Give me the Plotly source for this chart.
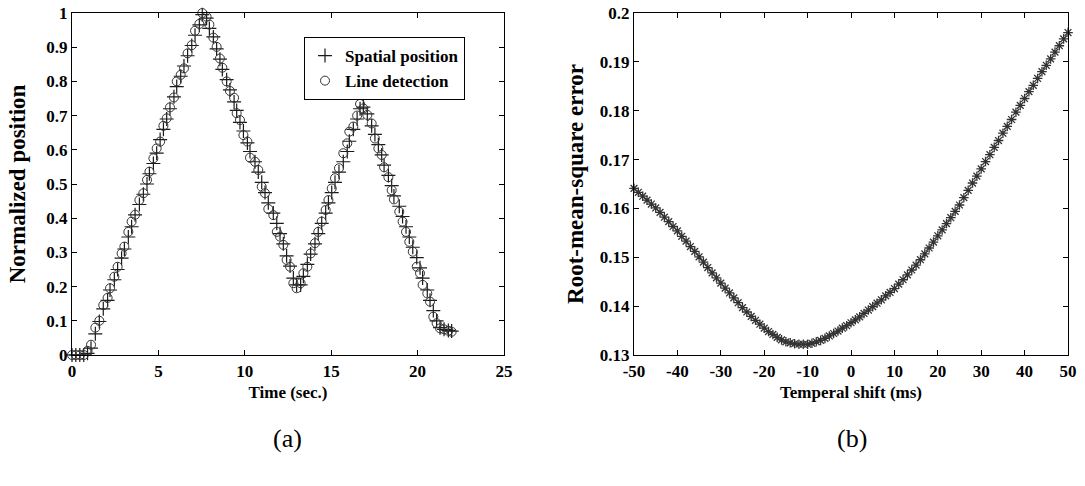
import plotly.graph_objects as go

# ---------------- data: panel (a) ----------------
time_s = [0.00, 0.22, 0.45, 0.68, 0.90, 1.10, 1.35, 1.58, 1.81, 2.06,
          2.20, 2.45, 2.64, 2.87, 3.03, 3.26, 3.45, 3.65, 3.90, 4.13,
          4.34, 4.48, 4.71, 4.90, 5.10, 5.29, 5.48, 5.67, 5.90, 6.06,
          6.29, 6.48, 6.69, 6.93, 7.12, 7.37, 7.54, 7.79, 7.95, 8.18,
          8.37, 8.56, 8.70, 8.95, 9.14, 9.38, 9.53, 9.72, 9.92, 10.15,
          10.30, 10.59, 10.78, 10.98, 11.17, 11.36, 11.65, 11.85, 12.04, 12.23,
          12.42, 12.62, 12.81, 13.00, 13.23, 13.39, 13.62, 13.81, 14.06, 14.25,
          14.45, 14.68, 14.84, 15.03, 15.22, 15.45, 15.70, 15.93, 16.05, 16.28,
          16.50, 16.67, 16.86, 17.09, 17.34, 17.53, 17.73, 17.92, 18.06, 18.31,
          18.50, 18.63, 18.94, 19.13, 19.33, 19.52, 19.72, 19.95, 20.14, 20.29,
          20.56, 20.72, 20.91, 21.10, 21.30, 21.53, 21.78, 21.97]

line_detection = [0.000, 0.000, 0.000, 0.000, 0.012, 0.030, 0.080, 0.100, 0.146, 0.167,
                  0.195, 0.229, 0.258, 0.297, 0.317, 0.360, 0.390, 0.410, 0.453, 0.473,
                  0.512, 0.536, 0.575, 0.604, 0.624, 0.670, 0.692, 0.724, 0.753, 0.800,
                  0.819, 0.838, 0.882, 0.906, 0.948, 0.968, 1.000, 0.989, 0.966, 0.928,
                  0.901, 0.867, 0.840, 0.800, 0.772, 0.752, 0.707, 0.687, 0.643, 0.624,
                  0.577, 0.565, 0.541, 0.492, 0.473, 0.427, 0.409, 0.360, 0.346, 0.322,
                  0.278, 0.258, 0.210, 0.195, 0.210, 0.239, 0.258, 0.297, 0.327, 0.360,
                  0.390, 0.424, 0.453, 0.487, 0.517, 0.546, 0.590, 0.619, 0.653, 0.668,
                  0.700, 0.734, 0.721, 0.702, 0.677, 0.633, 0.604, 0.585, 0.549, 0.520,
                  0.482, 0.455, 0.419, 0.390, 0.360, 0.331, 0.302, 0.258, 0.239, 0.205,
                  0.180, 0.156, 0.112, 0.093, 0.078, 0.075, 0.071, 0.068]

spatial_position = [0.000, 0.000, 0.000, 0.000, 0.005, 0.020,
                    0.062, 0.098, 0.135, 0.160, 0.190, 0.220, 0.250, 0.283, 0.310, 0.345,
                    0.375, 0.410, 0.440, 0.470, 0.500, 0.530, 0.560, 0.590, 0.630, 0.660,
                    0.690, 0.720, 0.755, 0.785, 0.815, 0.845, 0.875, 0.905, 0.935, 0.965,
                    0.995,
                    0.985, 0.955, 0.930, 0.895, 0.865, 0.835, 0.805, 0.775, 0.740, 0.715,
                    0.680, 0.655, 0.620, 0.595, 0.565, 0.535, 0.505, 0.475, 0.445, 0.415,
                    0.385, 0.355, 0.325, 0.290, 0.260, 0.225, 0.205,
                    0.205, 0.230, 0.265, 0.295, 0.325, 0.355, 0.385, 0.415, 0.445, 0.475,
                    0.505, 0.535, 0.565, 0.595, 0.625, 0.660, 0.690, 0.720,
                    0.725, 0.705, 0.670, 0.645, 0.615, 0.585, 0.555, 0.525, 0.495, 0.465,
                    0.435, 0.405, 0.375, 0.345, 0.315, 0.285, 0.255, 0.225, 0.190, 0.160,
                    0.130, 0.100, 0.080, 0.075, 0.072, 0.070]

# ---------------- data: panel (b) ----------------
shift_ms = list(range(-50, 51))
rmse = [0.1641, 0.1633, 0.1625, 0.1617, 0.1609, 0.1601, 0.1592, 0.1582, 0.1573, 0.1563,
        0.1554, 0.1543, 0.1533, 0.1522, 0.1512, 0.1501, 0.1490, 0.1479, 0.1468, 0.1458,
        0.1447, 0.1437, 0.1427, 0.1417, 0.1407, 0.1397, 0.1388, 0.1379, 0.1371, 0.1363,
        0.1355, 0.1348, 0.1342, 0.1336, 0.1331, 0.1327, 0.1325, 0.1323, 0.1322, 0.1322,
        0.1322, 0.1324, 0.1327, 0.1330, 0.1334, 0.1339, 0.1344, 0.1349, 0.1355, 0.1360,
        0.1366, 0.1372, 0.1378, 0.1385, 0.1392, 0.1399, 0.1406, 0.1413, 0.1421, 0.1428,
        0.1436, 0.1445, 0.1454, 0.1464, 0.1474, 0.1484, 0.1495, 0.1507, 0.1519, 0.1531,
        0.1544, 0.1556, 0.1569, 0.1581, 0.1594, 0.1607, 0.1622, 0.1637, 0.1652, 0.1666,
        0.1681, 0.1696, 0.1710, 0.1725, 0.1739, 0.1754, 0.1768, 0.1782, 0.1797, 0.1811,
        0.1825, 0.1839, 0.1852, 0.1866, 0.1880, 0.1893, 0.1906, 0.1920, 0.1933, 0.1947,
        0.1960]

xticks_a = [0, 5, 10, 15, 20, 25]
yticks_a = [0, 0.1, 0.2, 0.3, 0.4, 0.5, 0.6, 0.7, 0.8, 0.9, 1]
yticktext_a = ["0", "0.1", "0.2", "0.3", "0.4", "0.5", "0.6", "0.7", "0.8", "0.9", "1"]
xticks_b = [-50, -40, -30, -20, -10, 0, 10, 20, 30, 40, 50]
xticktext_b = ["-50", "-40", "-30", "-20", "-10", "0", "10", "20", "30", "40", "50"]
yticks_b = [0.13, 0.14, 0.15, 0.16, 0.17, 0.18, 0.19, 0.2]
yticktext_b = ["0.13", "0.14", "0.15", "0.16", "0.17", "0.18", "0.19", "0.2"]

SERIF = "Liberation Serif, Times New Roman, serif"
W, H = 1085, 486

def px_x(p):
    return p / W

def px_y(p):
    return 1 - p / H

fig = go.Figure()
fig.add_trace(go.Scatter(
    x=time_s, y=spatial_position, mode="markers", name="Spatial position",
    marker=dict(symbol="cross-thin-open", size=10, color="#1a1a1a",
                line=dict(color="#1a1a1a", width=1.2)),
    cliponaxis=False, xaxis="x", yaxis="y"))
fig.add_trace(go.Scatter(
    x=time_s, y=line_detection, mode="markers", name="Line detection",
    marker=dict(symbol="circle-open", size=9, color="#333",
                line=dict(color="#333", width=1)),
    cliponaxis=False, xaxis="x", yaxis="y"))
fig.add_trace(go.Scatter(
    x=shift_ms, y=rmse, mode="markers", name="RMSE", showlegend=False,
    marker=dict(symbol="asterisk-open", size=8, color="#333",
                line=dict(color="#333", width=1.3)),
    cliponaxis=False, xaxis="x2", yaxis="y2"))

axis_common = dict(
    showline=True, linecolor="black", linewidth=1.3, mirror="ticks",
    ticks="inside", ticklen=5, tickcolor="black", tickwidth=1.2,
    showgrid=False, zeroline=False, automargin=False,
    ticklabeloverflow="allow",
    tickfont=dict(family=SERIF, size=17, color="black", weight="bold"),
)

fig.update_layout(
    width=W, height=H,
    paper_bgcolor="white", plot_bgcolor="white",
    margin=dict(l=0, r=0, t=0, b=0),
    font=dict(family=SERIF, color="black"),
    xaxis=dict(domain=[px_x(72), px_x(504)], range=[0, 25], tickvals=xticks_a,
               title=dict(text="Time (sec.)", standoff=6,
                          font=dict(family=SERIF, size=17, weight="bold")),
               anchor="y", **axis_common),
    yaxis=dict(domain=[px_y(355), px_y(13)], range=[0, 1], tickvals=yticks_a,
               ticktext=yticktext_a,
               title=dict(text="Normalized position", standoff=14,
                          font=dict(family=SERIF, size=23, weight="bold")),
               anchor="x", **axis_common),
    xaxis2=dict(domain=[px_x(634), px_x(1068)], range=[-50, 50], tickvals=xticks_b,
                ticktext=xticktext_b,
                title=dict(text="Temperal shift (ms)", standoff=6,
                           font=dict(family=SERIF, size=17, weight="bold")),
                anchor="y2", **axis_common),
    yaxis2=dict(domain=[px_y(355), px_y(13)], range=[0.13, 0.2], tickvals=yticks_b,
                ticktext=yticktext_b,
                title=dict(text="Root-mean-square error", standoff=9,
                           font=dict(family=SERIF, size=23, weight="bold")),
                anchor="x2", **axis_common),
    legend=dict(x=px_x(304), y=px_y(37), xanchor="left", yanchor="top",
                bgcolor="white", bordercolor="black", borderwidth=1,
                font=dict(family=SERIF, size=17, color="black", weight="bold"),
                tracegroupgap=0, itemwidth=30),
    annotations=[
        dict(text="(a)", x=px_x(287), y=px_y(438), xref="paper", yref="paper",
             xanchor="center", yanchor="middle",
             showarrow=False, font=dict(family=SERIF, size=26, color="black")),
        dict(text="(b)", x=px_x(852), y=px_y(438), xref="paper", yref="paper",
             xanchor="center", yanchor="middle",
             showarrow=False, font=dict(family=SERIF, size=26, color="black")),
    ],
)

# remove the default 8px page margin so the figure fills the window exactly
fig.write_html("out.html", config={"displayModeBar": False},
               post_script="document.body.style.margin='0px';")
